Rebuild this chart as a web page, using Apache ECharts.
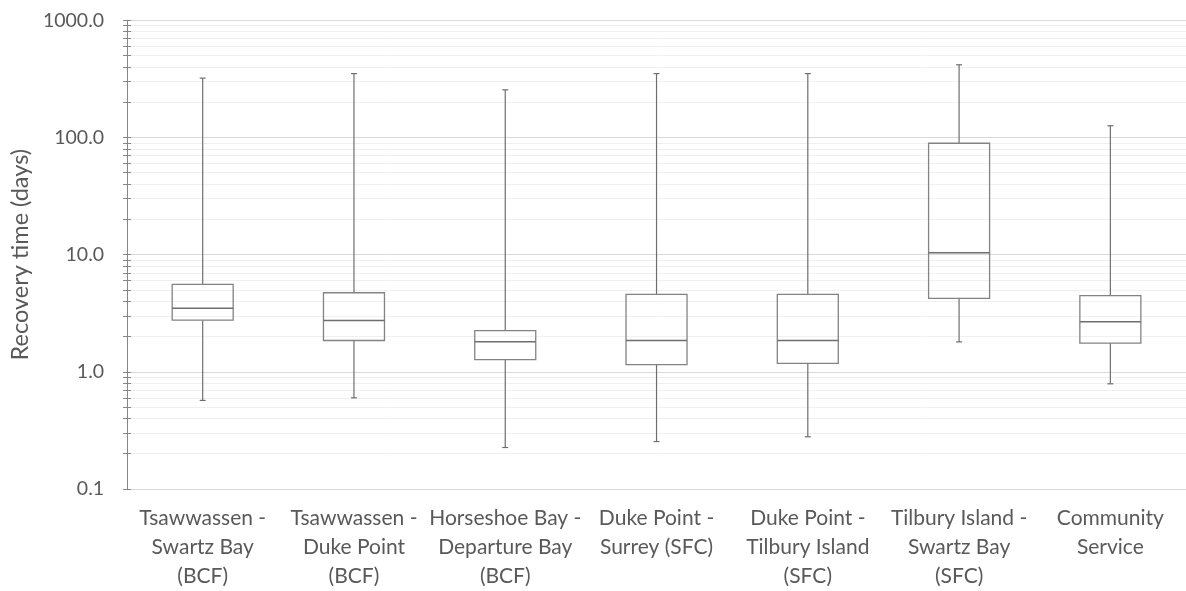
<!DOCTYPE html>
<html><head><meta charset="utf-8">
<script src="https://cdn.jsdelivr.net/npm/echarts@6/dist/echarts.min.js"></script>
<style>html,body{margin:0;padding:0;background:#fff}#c{width:1186px;height:591px}</style>
</head><body><div id="c"></div>
<script>
const categories = [
  "Tsawwassen -\nSwartz Bay\n(BCF)",
  "Tsawwassen -\nDuke Point\n(BCF)",
  "Horseshoe Bay -\nDeparture Bay\n(BCF)",
  "Duke Point -\nSurrey (SFC)",
  "Duke Point -\nTilbury Island\n(SFC)",
  "Tilbury Island -\nSwartz Bay\n(SFC)",
  "Community\nService"
];
const mins    = [0.57, 0.60, 0.226, 0.254, 0.279, 1.80, 0.79];
const q1s     = [2.76, 1.85, 1.27, 1.15, 1.18, 4.24, 1.76];
const medians = [3.49, 2.74, 1.81, 1.85, 1.85, 10.4, 2.68];
const q3s     = [5.58, 4.73, 2.25, 4.59, 4.59, 89.3, 4.47];
const maxs    = [321, 351, 255, 351, 351, 417, 126];
const yTickLabels = [0.1, 1, 10, 100, 1000];

const data = categories.map((c, i) => [i, mins[i], q1s[i], medians[i], q3s[i], maxs[i]]);
const FONT = 'Lato';
const TXT = '#595959';

const chart = echarts.init(document.getElementById('c'), null, {renderer: 'canvas'});
chart.setOption({
  animation: false,
  backgroundColor: '#fff',
  grid: {left: 124.5, top: 20.3, width: 1067, height: 470.4},
  xAxis: {
    type: 'category',
    data: categories,
    axisLine: {show: true, lineStyle: {color: '#d9d9d9', width: 1}},
    axisTick: {show: false},
    axisLabel: {color: TXT, fontFamily: FONT, fontSize: 21, lineHeight: 29, margin: 15, interval: 0}
  },
  yAxis: [{
    type: 'log', logBase: 10, min: 0.1, max: 1000,
    name: 'Recovery time (days)', nameLocation: 'middle', nameGap: 91,
    nameTextStyle: {color: TXT, fontFamily: FONT, fontSize: 23.5},
    axisLine: {show: true, lineStyle: {color: '#868686', width: 1}},
    axisTick: {show: true, inside: false, length: 4, lineStyle: {color: '#868686'}},
    minorTick: {show: true, splitNumber: 9, length: 4, lineStyle: {color: '#868686'}},
    axisLabel: {color: TXT, fontFamily: FONT, fontSize: 19.5, margin: 23,
      formatter: v => Number(v).toFixed(1)},
    splitLine: {show: true, lineStyle: {color: '#d9d9d9', width: 1}},
    minorSplitLine: {show: true, lineStyle: {color: '#f0f0f0', width: 1}}
  }, {
    type: 'log', logBase: 10, min: 0.1, max: 1000, position: 'left',
    axisLine: {show: false},
    axisTick: {show: true, inside: true, length: 4, lineStyle: {color: '#868686'}},
    minorTick: {show: true, splitNumber: 9, length: 4, lineStyle: {color: '#868686'}},
    axisLabel: {show: false},
    splitLine: {show: false}
  }],
  series: [{
    type: 'custom',
    xAxisIndex: 0, yAxisIndex: 0,
    data: data,
    encode: {x: 0, y: [1, 2, 3, 4, 5]},
    renderItem: function (params, api) {
      const i = api.value(0);
      const pMin = api.coord([i, api.value(1)]);
      const pQ1 = api.coord([i, api.value(2)]);
      const pMed = api.coord([i, api.value(3)]);
      const pQ3 = api.coord([i, api.value(4)]);
      const pMax = api.coord([i, api.value(5)]);
      const x = pMed[0];
      const hw = 30.5, cw = 3;
      const wStyle = {stroke: '#6e6e6e', lineWidth: 1.2};
      const bStyle = {stroke: '#838383', lineWidth: 1.3, fill: null};
      return {type: 'group', children: [
        {type: 'line', shape: {x1: x, y1: pMax[1], x2: x, y2: pQ3[1]}, style: wStyle},
        {type: 'line', shape: {x1: x, y1: pQ1[1], x2: x, y2: pMin[1]}, style: wStyle},
        {type: 'line', shape: {x1: x - cw, y1: pMax[1], x2: x + cw, y2: pMax[1]}, style: wStyle},
        {type: 'line', shape: {x1: x - cw, y1: pMin[1], x2: x + cw, y2: pMin[1]}, style: wStyle},
        {type: 'rect', shape: {x: x - hw, y: pQ3[1], width: 2 * hw, height: pQ1[1] - pQ3[1]}, style: bStyle},
        {type: 'line', shape: {x1: x - hw, y1: pMed[1], x2: x + hw, y2: pMed[1]}, style: {stroke: '#6e6e6e', lineWidth: 1.5}}
      ]};
    }
  }]
});
</script></body></html>
